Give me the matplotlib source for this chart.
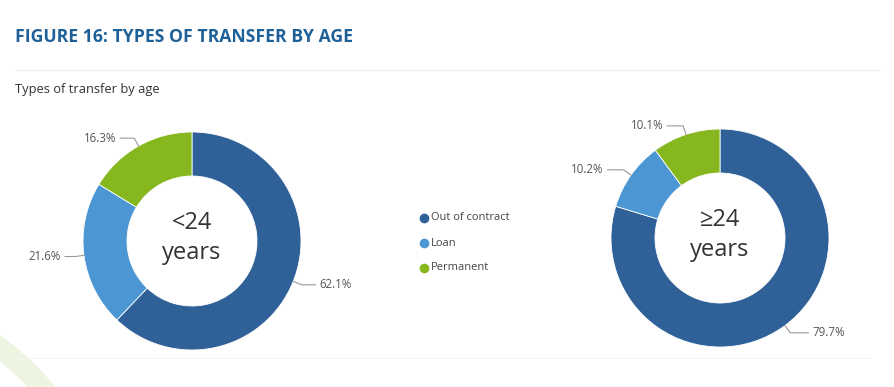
import numpy as np
import matplotlib
matplotlib.use("Agg")
import matplotlib.pyplot as plt
from matplotlib.patches import Wedge

# ---- data ----
categories = ["Out of contract", "Loan", "Permanent"]
under24 = [62.1, 21.6, 16.3]
over24 = [79.7, 10.2, 10.1]
center_labels = ["<24\nyears", "\u226524\nyears"]
colors = ["#2F6198", "#4C97D3", "#87B71F"]

title = "FIGURE 16: TYPES OF TRANSFER BY AGE"
subtitle = "Types of transfer by age"

W, H = 894, 387
fig = plt.figure(figsize=(W / 100, H / 100), dpi=100)
ax = fig.add_axes([0, 0, 1, 1])

FONT = ["Open Sans", "DejaVu Sans"]

def Y(py):
    return H - py

# decorative faint elements
ax.plot([15, 880], [Y(70), Y(70)], color="#F0F0F0", lw=0.8)
ax.plot([15, 870], [Y(358), Y(358)], color="#F4F4F4", lw=0.8)
deco = Wedge((-150, Y(550)), 262, 25, 65, width=21, facecolor="#EDF4E0", edgecolor="none")
ax.add_patch(deco)

ax.text(15, Y(37), title, fontsize=12.7, fontweight="bold", color="#1E6098",
        family=FONT, va="center", ha="left")
ax.text(15, Y(89), subtitle, fontsize=9.3, color="#333333",
        family=FONT, va="center", ha="left")

R = 109
Wd = 44

def donut(values, cx, cy, label_cfg):
    cyd = Y(cy)
    ax.pie(values, colors=colors, startangle=90, counterclock=False,
           center=(cx, cyd), radius=R,
           wedgeprops=dict(width=Wd, edgecolor="white", linewidth=0.6),
           frame=True)
    total = sum(values)
    cum = 0
    for v, (side, hlen) in zip(values, label_cfg):
        mid = 90 - (cum + v / 2) / total * 360
        cum += v
        a = np.deg2rad(mid)
        x0, y0 = cx + R * np.cos(a), cyd + R * np.sin(a)
        x1, y1 = cx + (R + 9) * np.cos(a), cyd + (R + 9) * np.sin(a)
        x2 = x1 + side * hlen
        ax.plot([x0, x1, x2], [y0, y1, y1], color="#9A9A9A", lw=0.8)
        ax.text(x2 + side * 4, y1, f"{v}%", fontsize=8.3, color="#555555",
                family=FONT, va="center", ha="left" if side > 0 else "right")

donut(under24, 192, 241, [(1, 14), (-1, 10), (-1, 14)])
ax.text(192, Y(238), center_labels[0], fontsize=17, color="#333333",
        family=FONT, ha="center", va="center", linespacing=1.3)
donut(over24, 720, 238, [(1, 18), (-1, 16), (-1, 16)])
ax.text(720, Y(235), center_labels[1], fontsize=17, color="#333333",
        family=FONT, ha="center", va="center", linespacing=1.3)

# legend
for i, (c, name) in enumerate(zip(colors, categories)):
    yy = Y(218 + 25 * i)
    ax.plot(424, yy, "o", ms=7, color=c, mec="none")
    ax.text(431, yy, name, fontsize=8, color="#444444", family=FONT,
            va="center", ha="left")

ax.set_xlim(0, W)
ax.set_ylim(0, H)
ax.set_aspect("equal")
ax.axis("off")

fig.savefig("out.png", dpi=100, facecolor="white")
